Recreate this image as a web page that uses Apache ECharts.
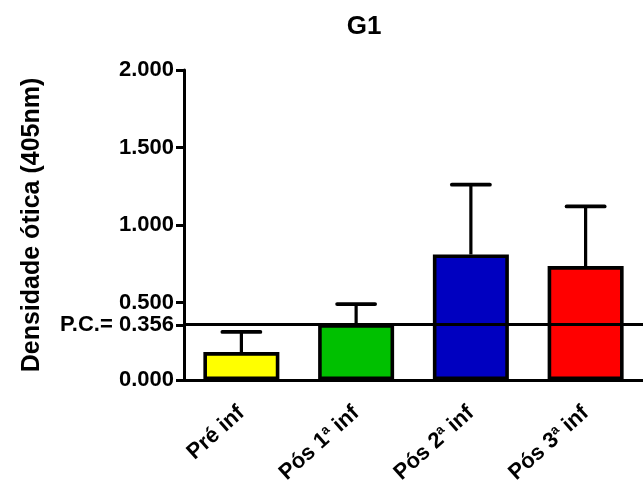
<!DOCTYPE html>
<html>
<head>
<meta charset="utf-8">
<script src="https://cdn.jsdelivr.net/npm/echarts@6/dist/echarts.min.js"></script>
<style>html,body{margin:0;padding:0;background:#fff}#c{width:643px;height:489px}</style>
</head>
<body>
<div id="c"></div>
<script>
const categories = ['Pré inf', 'Pós 1ª inf', 'Pós 2ª inf', 'Pós 3ª inf'];
const categoryLabels = ['Pré inf', 'Pós 1{sup|a} inf', 'Pós 2{sup|a} inf', 'Pós 3{sup|a} inf'];
const means = [0.18, 0.36, 0.81, 0.735];
const sds = [0.13, 0.13, 0.45, 0.385];
const barColors = ['#FFFF00', '#00C000', '#0000C0', '#FF0000'];
const yTicks = [0, 0.356, 0.5, 1.0, 1.5, 2.0];
const cutoff = 0.356;

const FONT = 'Arial, "Liberation Sans", Helvetica, sans-serif';
const chart = echarts.init(document.getElementById('c'), null, {renderer: 'canvas'});

const errData = categories.map((c, i) => [i, means[i], means[i] + sds[i]]);

chart.setOption({
  animation: false,
  backgroundColor: '#fff',
  title: {
    text: 'G1', left: 359, top: 9, textAlign: 'center',
    textStyle: {fontFamily: FONT, fontWeight: 'bold', fontSize: 26, color: '#000'}
  },
  grid: {left: 184, top: 70, width: 467, height: 310, containLabel: false},
  xAxis: {
    type: 'category',
    data: categories,
    axisLine: {lineStyle: {color: '#000', width: 3}},
    axisTick: {alignWithLabel: true, length: 8, lineStyle: {color: '#000', width: 3}},
    axisLabel: {
      rotate: 42, margin: 30, color: '#000', interval: 0,
      fontFamily: FONT, fontWeight: 'bold', fontSize: 22,
      formatter: (v, i) => categoryLabels[i],
      rich: {
        sup: {fontFamily: FONT, fontWeight: 'bold', fontSize: 13, color: '#000', verticalAlign: 'top', padding: [0, 0, 11, 0]}
      }
    }
  },
  yAxis: {
    type: 'value', min: 0, max: 2,
    name: 'Densidade ótica (405nm)', nameLocation: 'middle', nameGap: 139, nameRotate: 90,
    nameTextStyle: {fontFamily: FONT, fontWeight: 'bold', fontSize: 25, color: '#000'},
    axisLine: {show: true, lineStyle: {color: '#000', width: 3}},
    axisTick: {show: true, length: 8, customValues: yTicks, lineStyle: {color: '#000', width: 3}},
    splitLine: {show: false},
    axisLabel: {
      customValues: yTicks, margin: 10, color: '#000',
      fontFamily: FONT, fontWeight: 'bold', fontSize: 22,
      formatter: v => Math.abs(v - cutoff) < 1e-9 ? 'P.C.= ' + cutoff.toFixed(3) : v.toFixed(3)
    }
  },
  series: [
    {
      type: 'line', data: [], z: 1, silent: true,
      markLine: {
        silent: true, symbol: ['none', 'none'], label: {show: false},
        lineStyle: {color: '#000', width: 3, type: 'solid'},
        data: [{yAxis: cutoff}]
      }
    },
    {
      type: 'bar', z: 2, barWidth: 76,
      data: means.map((m, i) => ({value: m, itemStyle: {color: barColors[i]}})),
      itemStyle: {borderColor: '#000', borderWidth: 3.6}
    },
    {
      type: 'custom', z: 3,
      encode: {x: 0, y: [1, 2]},
      data: errData,
      renderItem: function (params, api) {
        const base = api.coord([api.value(0), api.value(1)]);
        const top = api.coord([api.value(0), api.value(2)]);
        const half = 19;
        return {
          type: 'group',
          children: [
            {type: 'line', shape: {x1: base[0], y1: base[1], x2: top[0], y2: top[1]}, style: {stroke: '#000', lineWidth: 3.2}},
            {type: 'line', shape: {x1: top[0] - half, y1: top[1], x2: top[0] + half, y2: top[1]}, style: {stroke: '#000', lineWidth: 3.8, lineCap: 'round'}}
          ]
        };
      }
    }
  ]
});
</script>
</body>
</html>
